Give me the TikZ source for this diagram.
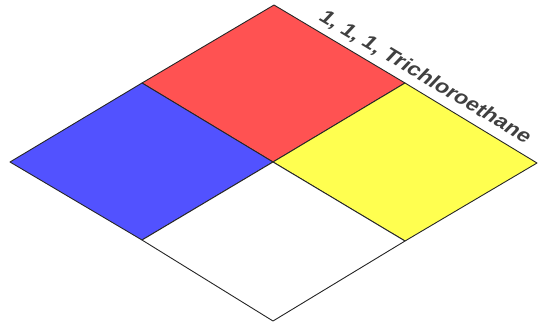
\documentclass[tikz,border=0pt]{standalone}
\usepackage{fontspec}
\setmainfont{Liberation Sans}
\newfontfamily\labelfont[FakeStretch=1.12,FakeSlant=0.22]{Liberation Sans Bold}
\usetikzlibrary{positioning}
\definecolor{hazred}{RGB}{255,82,82}
\definecolor{hazblue}{RGB}{82,82,255}
\definecolor{hazyellow}{RGB}{255,255,80}
\tikzstyle{quad}=[draw=black!85,line width=0.9bp,line join=round]
\tikzstyle{chem}=[font=\labelfont\fontsize{20}{24}\selectfont,text=black!75,inner sep=0pt]

\begin{document}
\begin{tikzpicture}[x=1bp,y=-1bp]
\useasboundingbox (0,0) rectangle (540,324);
\coordinate (T) at (274,5);
\coordinate (L) at (10,162);
\coordinate (R) at (537,163);
\coordinate (B) at (273,321);
\coordinate (C) at (273,162);
\coordinate (TL) at (142,83);
\coordinate (TR) at (405,83);
\coordinate (BL) at (142,240);
\coordinate (BR) at (405,241);
\filldraw[quad,fill=hazred] (T) -- (TR) -- (C) -- (TL) -- cycle;
\filldraw[quad,fill=hazblue] (TL) -- (C) -- (BL) -- (L) -- cycle;
\filldraw[quad,fill=hazyellow] (TR) -- (R) -- (BR) -- (C) -- cycle;
\filldraw[quad,fill=white] (C) -- (BR) -- (B) -- (BL) -- cycle;
\path (T) -- (R) node[chem,pos=0.54,sloped,above=7bp] (name) {1, 1, 1, Trichloroethane};
\end{tikzpicture}
\end{document}
